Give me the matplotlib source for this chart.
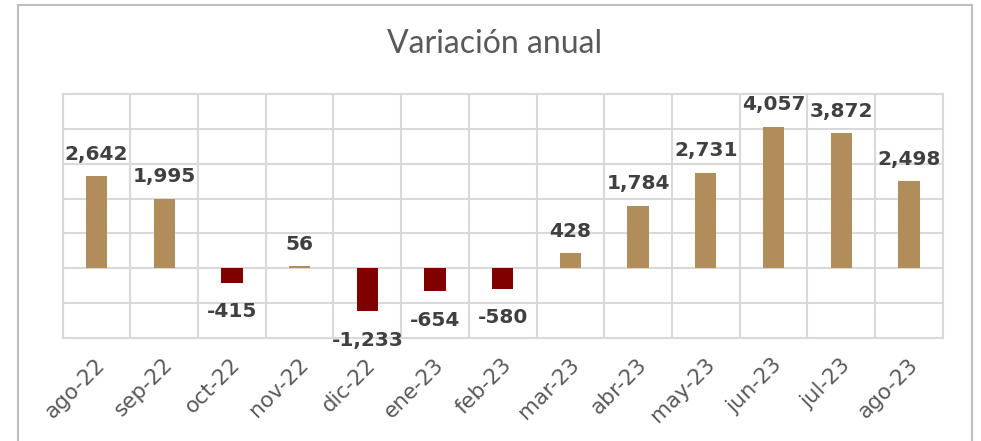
import matplotlib.pyplot as plt
from matplotlib.patches import Rectangle

meses = ['ago-22', 'sep-22', 'oct-22', 'nov-22', 'dic-22', 'ene-23', 'feb-23',
         'mar-23', 'abr-23', 'may-23', 'jun-23', 'jul-23', 'ago-23']
variacion = [2642, 1995, -415, 56, -1233, -654, -580,
             428, 1784, 2731, 4057, 3872, 2498]

color_pos = '#B08D5B'
color_neg = '#800000'
color_txt = '#404040'

W, H = 981, 441
fig = plt.figure(figsize=(W / 100, H / 100), dpi=100)

# marco exterior del grafico
fig.patches.append(Rectangle((18 / W, -0.1), (972 - 18) / W, 1.1 - 5 / H,
                             transform=fig.transFigure, fill=False,
                             edgecolor='#BFBFBF', linewidth=1.5))

ax = fig.add_axes([62.7 / W, 1 - 338 / H, (942.7 - 62.7) / W, (338 - 94) / H])

x = range(len(meses))
colores = [color_pos if v >= 0 else color_neg for v in variacion]
ax.bar(x, variacion, width=0.315, color=colores, zorder=3)

ax.set_xlim(-0.5, len(meses) - 0.5)
ax.set_ylim(-2000, 5000)
ax.set_yticks(range(-2000, 5001, 1000))
ax.set_xticks([i + 0.5 for i in range(-1, len(meses))], minor=False)
ax.grid(True, color='#D9D9D9', linewidth=1.5, zorder=0)
ax.tick_params(axis='both', length=0, labelleft=False, labelbottom=False)
for s in ax.spines.values():
    s.set_color('#D9D9D9')
    s.set_linewidth(1.5)

# etiquetas del eje x
for i, m in enumerate(meses):
    ax.annotate(m, (i, -2000), xytext=(4, -17), textcoords='offset points',
                rotation=45, ha='right', va='center', rotation_mode='anchor',
                fontsize=15.5, color='#595959')

# etiquetas de datos
for i, v in enumerate(variacion):
    if v >= 0:
        ax.annotate(f'{v:,}', (i, v), xytext=(0, 12), textcoords='offset points',
                    ha='center', va='baseline', fontsize=14.5, fontweight='bold',
                    color=color_txt, zorder=5)
    else:
        ax.annotate(f'{v:,}', (i, v), xytext=(0, -14), textcoords='offset points',
                    ha='center', va='top', fontsize=14.5, fontweight='bold',
                    color=color_txt, zorder=5)

fig.text(495 / W, 1 - 44 / H, 'Variación anual', ha='center', va='center',
         fontsize=23, color='#595959', family='Lato')

fig.savefig('out.png', dpi=100)
